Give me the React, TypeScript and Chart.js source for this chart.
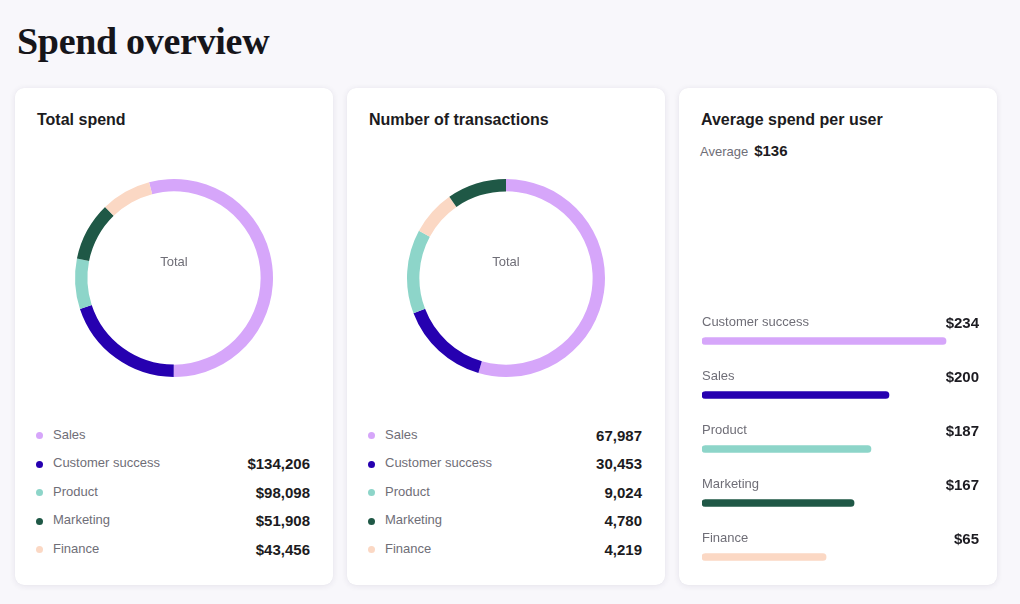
import React, { useEffect, useRef } from "react";
import { Chart, registerables } from "chart.js";

Chart.register(...registerables);

// ---- data ----
const categories = ["Sales", "Customer success", "Product", "Marketing", "Finance"];
const categoryColors = ["#d6a6fa", "#2600b0", "#8dd5c9", "#1f5846", "#fbd8c4"];

// Total spend card
const spendShares = [54.1, 19.9, 8.2, 9.6, 8.2]; // donut shares (%)
const spendOrder = [0, 1, 2, 3, 4];
const spendRotation = -14.6;
const spendLabels = ["", "$134,206", "$98,098", "$51,908", "$43,456"];

// Number of transactions card
const txnShares = [54.5, 14.7, 13.7, 9.7, 7.4];
const txnOrder = [0, 1, 2, 4, 3]; // clockwise drawing order
const txnRotation = 0;
const txnLabels = ["67,987", "30,453", "9,024", "4,780", "4,219"];

// Average spend per user card
const avgCategories = ["Customer success", "Sales", "Product", "Marketing", "Finance"];
const avgColors = ["#d6a6fa", "#2600b0", "#8dd5c9", "#1f5846", "#fbd8c4"];
const avgBarLengths = [0.881, 0.675, 0.61, 0.549, 0.448]; // relative bar length
const avgLabels = ["$234", "$200", "$187", "$167", "$65"];
const averageLabel = "$136";

const SANS = "'Liberation Sans', Arial, Helvetica, sans-serif";
const GRAY = "#6f6e77";
const DARK = "#1c1b21";

function Donut({ shares, order, rotation }: { shares: number[]; order: number[]; rotation: number }) {
  const ref = useRef<HTMLCanvasElement>(null);
  useEffect(() => {
    if (!ref.current) return;
    const chart = new Chart(ref.current, {
      type: "doughnut",
      data: {
        labels: order.map((i) => categories[i]),
        datasets: [
          {
            data: order.map((i) => shares[i]),
            backgroundColor: order.map((i) => categoryColors[i]),
            borderWidth: 0,
            hoverOffset: 0,
            offset: 0,
          },
        ],
      },
      options: {
        animation: false,
        responsive: false,
        maintainAspectRatio: false,
        rotation,
        cutout: "87.5%",
        radius: 99,
        layout: { padding: 0 },
        plugins: { legend: { display: false }, tooltip: { enabled: false } },
        events: [],
      },
    });
    return () => chart.destroy();
  }, []);
  return <canvas ref={ref} width={200} height={200} style={{ width: 200, height: 200, display: "block" }} />;
}

function Bars() {
  const ref = useRef<HTMLCanvasElement>(null);
  useEffect(() => {
    if (!ref.current) return;
    const chart = new Chart(ref.current, {
      type: "bar",
      data: {
        labels: avgCategories,
        datasets: [
          {
            data: avgBarLengths,
            backgroundColor: avgColors,
            borderRadius: 4,
            borderSkipped: false,
            barThickness: 7,
          },
        ],
      },
      options: {
        indexAxis: "y",
        animation: false,
        responsive: false,
        maintainAspectRatio: false,
        layout: { padding: 0 },
        scales: {
          x: { display: false, min: 0, max: 1 },
          y: { display: false },
        },
        plugins: { legend: { display: false }, tooltip: { enabled: false } },
        events: [],
      },
    });
    return () => chart.destroy();
  }, []);
  return <canvas ref={ref} width={277} height={270} style={{ width: 277, height: 270, display: "block" }} />;
}

const cardStyle = (left: number, width: number): React.CSSProperties => ({
  position: "absolute",
  left,
  top: 88,
  width,
  height: 497,
  background: "#ffffff",
  borderRadius: 9,
  boxShadow: "0 1px 6px rgba(40,30,80,0.09), 0 0 1px rgba(40,30,80,0.06)",
});

const titleStyle: React.CSSProperties = {
  position: "absolute",
  left: 22,
  top: 22,
  fontFamily: SANS,
  fontWeight: 700,
  fontSize: 16,
  color: DARK,
  lineHeight: "20px",
  whiteSpace: "nowrap",
};

const labelStyle: React.CSSProperties = {
  position: "absolute",
  fontFamily: SANS,
  fontSize: 13,
  color: GRAY,
  lineHeight: "18px",
  whiteSpace: "nowrap",
};

const valueStyle: React.CSSProperties = {
  position: "absolute",
  fontFamily: SANS,
  fontSize: 15,
  fontWeight: 700,
  color: DARK,
  lineHeight: "20px",
  whiteSpace: "nowrap",
};

function DonutCard({
  left,
  title,
  shares,
  order,
  rotation,
  values,
}: {
  left: number;
  title: string;
  shares: number[];
  order: number[];
  rotation: number;
  values: string[];
}) {
  const width = 318;
  return (
    <div style={cardStyle(left, width)}>
      <div style={titleStyle}>{title}</div>
      <div style={{ position: "absolute", left: width / 2 - 100, top: 89.5 }}>
        <Donut shares={shares} order={order} rotation={rotation} />
      </div>
      <div style={{ ...labelStyle, left: 0, width, top: 165, textAlign: "center" }}>Total</div>
      {categories.map((c, i) => {
        const rowY = 346 + i * 28.6;
        return (
          <React.Fragment key={c}>
            <div
              style={{
                position: "absolute",
                left: 21,
                top: rowY + 1.5 - 3.5,
                width: 7,
                height: 7,
                borderRadius: 4,
                background: categoryColors[i],
              }}
            />
            <div style={{ ...labelStyle, left: 38, top: rowY - 8.5 }}>{c}</div>
            <div style={{ ...valueStyle, right: 23, top: rowY - 8.5 }}>{values[i]}</div>
          </React.Fragment>
        );
      })}
    </div>
  );
}

function AverageCard({ left }: { left: number }) {
  const width = 318;
  return (
    <div style={cardStyle(left, width)}>
      <div style={titleStyle}>Average spend per user</div>
      <div style={{ ...labelStyle, left: 21, top: 54 }}>
        Average
        <span style={{ fontSize: 15, fontWeight: 700, color: DARK, marginLeft: 6 }}>{averageLabel}</span>
      </div>
      <div style={{ position: "absolute", left: 23, top: 226 }}>
        <Bars />
      </div>
      {avgCategories.map((c, i) => {
        const barY = 226 + 27 + i * 54;
        return (
          <React.Fragment key={c}>
            <div style={{ ...labelStyle, left: 23, top: barY - 20 - 8.5 }}>{c}</div>
            <div style={{ ...valueStyle, right: 18, top: barY - 18 - 10 }}>{avgLabels[i]}</div>
          </React.Fragment>
        );
      })}
    </div>
  );
}

export default function App() {
  return (
    <div
      style={{
        position: "fixed",
        left: 0,
        top: 0,
        width: 1020,
        height: 604,
        background: "#f8f7fb",
        overflow: "hidden",
      }}
    >
      <div
        style={{
          position: "absolute",
          left: 17,
          top: 20,
          fontFamily: "'Liberation Serif', 'Times New Roman', serif",
          fontWeight: 700,
          fontSize: 38,
          letterSpacing: -0.3,
          color: "#16151a",
          lineHeight: "42px",
          whiteSpace: "nowrap",
        }}
      >
        Spend overview
      </div>
      <DonutCard
        left={15}
        title="Total spend"
        shares={spendShares}
        order={spendOrder}
        rotation={spendRotation}
        values={spendLabels}
      />
      <DonutCard
        left={347}
        title="Number of transactions"
        shares={txnShares}
        order={txnOrder}
        rotation={txnRotation}
        values={txnLabels}
      />
      <AverageCard left={679} />
    </div>
  );
}
